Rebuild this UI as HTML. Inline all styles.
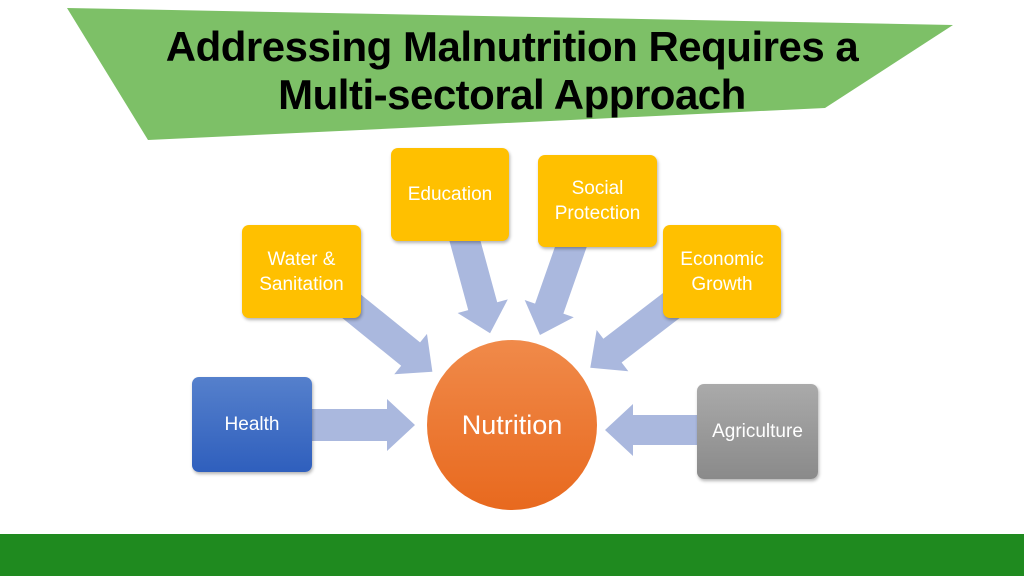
<!DOCTYPE html>
<html><head><meta charset="utf-8"><style>
body{margin:0;width:1024px;height:576px;overflow:hidden;background:#fff;position:relative;font-family:"Liberation Sans",sans-serif}
.t{position:absolute;left:0;width:1024px;text-align:center;font-weight:bold;font-size:42px;color:#000;letter-spacing:-0.5px}
.b{position:absolute;border-radius:7px;color:#fff;font-size:19px;display:flex;align-items:center;justify-content:center;text-align:center;line-height:25px;box-shadow:1px 2px 3px rgba(0,0,0,.3)}
.y{background:#ffc000}
</style></head><body>
<svg width="1024" height="576" style="position:absolute;left:0;top:0">
<defs>
<linearGradient id="or" x1="0" y1="0" x2="0" y2="1"><stop offset="0" stop-color="#f08a4a"/><stop offset="1" stop-color="#e8691e"/></linearGradient>
</defs>
<polygon points="67,8 953,25 825,108 148,140" fill="#7dc067"/>
<g fill="#aab8de">
<polygon transform="translate(300,425)" points="0,-16 87,-16 87,-26 115,0 87,26 87,16 0,16"/>
<polygon transform="translate(705,430) rotate(180)" points="0,-15 72,-15 72,-26 100,0 72,26 72,15 0,15"/>
<polygon transform="translate(350,305) rotate(39)" points="0,-15 78,-15 78,-26 106,0 78,26 78,15 0,15"/>
<polygon transform="translate(462,230) rotate(74.8)" points="0,-15 79,-15 79,-26 107,0 79,26 79,15 0,15"/>
<polygon transform="translate(575,235) rotate(109.3)" points="0,-15 78,-15 78,-26 106,0 78,26 78,15 0,15"/>
<polygon transform="translate(672,305) rotate(142.5)" points="0,-15 75,-15 75,-26 103,0 75,26 75,15 0,15"/>
</g>
<circle cx="512" cy="425" r="85" fill="url(#or)"/>
<text x="512" y="434" text-anchor="middle" fill="#fff" font-size="27" font-family="Liberation Sans,sans-serif">Nutrition</text>
<rect x="0" y="534" width="1024" height="42" fill="#1f8a1f"/>
</svg>
<div class="t" style="top:23px">Addressing Malnutrition Requires a</div>
<div class="t" style="top:71px">Multi-sectoral Approach</div>
<div class="b" style="left:192px;top:377px;width:120px;height:95px;background:linear-gradient(#5580cc,#2f5fbd)">Health</div>
<div class="b y" style="left:242px;top:225px;width:119px;height:93px">Water &amp;<br>Sanitation</div>
<div class="b y" style="left:391px;top:148px;width:118px;height:93px">Education</div>
<div class="b y" style="left:538px;top:155px;width:119px;height:92px">Social<br>Protection</div>
<div class="b y" style="left:663px;top:225px;width:118px;height:93px">Economic<br>Growth</div>
<div class="b" style="left:697px;top:384px;width:121px;height:95px;background:linear-gradient(#aaa,#8a8a8a)">Agriculture</div>
</body></html>
